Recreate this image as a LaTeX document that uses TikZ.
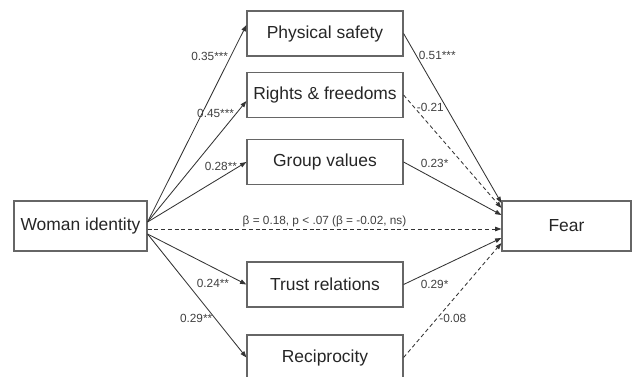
\documentclass[tikz,border=0pt]{standalone}
\usepackage{fontspec}
\setmainfont{Liberation Sans}
\usetikzlibrary{arrows.meta,positioning,calc}

\begin{document}
\begin{tikzpicture}[
  x=0.025cm, y=-0.025cm,
  construct/.style={rectangle, draw=black!60, line width=0.8pt, minimum width=3.9cm, minimum height=1.125cm, font=\fontsize{12.4}{14}\selectfont, text=black!85},
  path_edge/.style={-{Triangle[length=4.5pt,width=3.2pt]}, line width=0.6pt, black!80},
  ns_edge/.style={path_edge, dash pattern=on 2.8pt off 2pt},
  coef/.style={font=\fontsize{8.4}{10}\selectfont, text=black!75, inner sep=1.5pt}
]
  \useasboundingbox (0,0) rectangle (632,376);

  % Predictor and outcome
  \node[construct, minimum width=3.325cm, minimum height=1.25cm] (wi) at (80.5,226) {Woman identity};
  \node[construct, minimum width=3.225cm, minimum height=1.25cm] (fear) at (566.5,226) {Fear};

  % Mediators
  \node[construct] (ps) at (325,33.5) {Physical safety};
  \node[construct] (rf) at (325,95) {Rights \& freedoms};
  \node[construct] (gv) at (325,162) {Group values};
  \node[construct] (tr) at (325,284.5) {Trust relations};
  \node[construct] (rec) at (325,357.5) {Reciprocity};

  % Where the arrows leave and enter
  \coordinate (wi-up) at ($(wi.east)+(0,-4)$);
  \coordinate (wi-mid) at ($(wi.east)+(0,3)$);
  \coordinate (wi-low) at ($(wi.east)+(0,8)$);
  \coordinate (fear-ps) at ($(fear.west)+(0,-23)$);
  \coordinate (fear-rf) at ($(fear.west)+(0,-18)$);
  \coordinate (fear-gv) at ($(fear.west)+(0,-11)$);
  \coordinate (fear-wi) at ($(fear.west)+(0,3)$);
  \coordinate (fear-tr) at ($(fear.west)+(0,12)$);
  \coordinate (fear-rec) at ($(fear.west)+(0,17)$);

  % a paths
  \draw[path_edge] (wi-up) -- node[coef, left, pos=0.84] {0.35***} ($(ps.west)+(0,-8.5)$);
  \draw[path_edge] (wi-up) -- node[coef, left, pos=0.9] {0.45***} ($(rf.west)+(0,6)$);
  \draw[path_edge] (wi-up) -- node[coef, left, pos=0.93] {0.28**} (gv.west);
  \draw[path_edge] (wi-low) -- node[coef, below left, pos=0.85] {0.24**} (tr.west);
  \draw[path_edge] (wi-low) -- node[coef, left, pos=0.68] {0.29**} (rec.west);

  % b paths
  \draw[path_edge] (ps.east) -- node[coef, right, pos=0.13] {0.51***} (fear-ps);
  \draw[ns_edge] (rf.east) -- node[coef, right, pos=0.11] {-0.21} (fear-rf);
  \draw[path_edge] (gv.east) -- node[coef, above right, pos=0.15] {0.23*} (fear-gv);
  \draw[path_edge] (tr.east) -- node[coef, below right, pos=0.15] {0.29*} (fear-tr);
  \draw[ns_edge] (rec.east) -- node[coef, right, pos=0.34] {-0.08} (fear-rec);

  % direct effect
  \draw[ns_edge] (wi-mid) -- node[coef, above] {β = 0.18, p < .07 (β = -0.02, ns)} (fear-wi);
\end{tikzpicture}
\end{document}
